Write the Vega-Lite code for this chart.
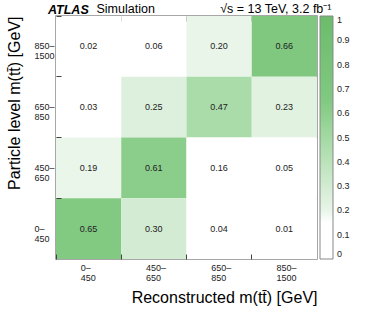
{
  "$schema": "https://vega.github.io/schema/vega-lite/v6.json",
  "autosize": "none",
  "width": 261,
  "height": 243,
  "padding": {"left": 56, "top": 16, "right": 57, "bottom": 65},
  "config": {
    "font": "Liberation Sans",
    "view": {"stroke": "#8a8a8a", "strokeWidth": 1.5},
    "axis": {"domain": false, "grid": false}
  },
  "title": {
    "text": "ATLAS",
    "anchor": "start",
    "frame": "group",
    "dx": -8,
    "offset": -14,
    "fontSize": 12.5,
    "fontWeight": "bold",
    "fontStyle": "italic",
    "color": "#000"
  },
  "data": {
    "values": [
      {"reco": "0–\n450", "part": "850–\n1500", "v": 0.02},
      {"reco": "450–\n650", "part": "850–\n1500", "v": 0.06},
      {"reco": "650–\n850", "part": "850–\n1500", "v": 0.20},
      {"reco": "850–\n1500", "part": "850–\n1500", "v": 0.66},
      {"reco": "0–\n450", "part": "650–\n850", "v": 0.03},
      {"reco": "450–\n650", "part": "650–\n850", "v": 0.25},
      {"reco": "650–\n850", "part": "650–\n850", "v": 0.47},
      {"reco": "850–\n1500", "part": "650–\n850", "v": 0.23},
      {"reco": "0–\n450", "part": "450–\n650", "v": 0.19},
      {"reco": "450–\n650", "part": "450–\n650", "v": 0.61},
      {"reco": "650–\n850", "part": "450–\n650", "v": 0.16},
      {"reco": "850–\n1500", "part": "450–\n650", "v": 0.05},
      {"reco": "0–\n450", "part": "0–\n450", "v": 0.65},
      {"reco": "450–\n650", "part": "0–\n450", "v": 0.30},
      {"reco": "650–\n850", "part": "0–\n450", "v": 0.04},
      {"reco": "850–\n1500", "part": "0–\n450", "v": 0.01}
    ]
  },
  "layer": [
    {
      "mark": {"type": "rect"},
      "encoding": {
        "x": {
          "field": "reco", "type": "ordinal",
          "sort": ["0–\n450", "450–\n650", "650–\n850", "850–\n1500"],
          "scale": {"paddingInner": 0, "paddingOuter": 0},
          "axis": {
            "orient": "bottom", "offset": -5,
            "title": "Reconstructed m(tt̄) [GeV]",
            "titleFontSize": 16, "titleFontWeight": "normal", "titleColor": "#000",
            "titleAnchor": "end", "titleAlign": "right", "titleX": 261, "titleY": 48, "titleBaseline": "alphabetic",
            "labelAngle": 0, "labelAlign": "left", "labelOffset": -8, "labelBaseline": "top",
            "labelExpr": "split(datum.label, '\\n')",
            "labelFontSize": 9, "labelColor": "#222", "labelLineHeight": 10, "labelPadding": 4,
            "bandPosition": 0, "tickSize": 5, "tickColor": "#444", "tickWidth": 1
          }
        },
        "y": {
          "field": "part", "type": "ordinal",
          "sort": ["850–\n1500", "650–\n850", "450–\n650", "0–\n450"],
          "scale": {"paddingInner": 0, "paddingOuter": 0},
          "axis": {
            "orient": "left", "offset": -5,
            "title": "Particle level m(tt̄) [GeV]",
            "titleFontSize": 16, "titleFontWeight": "normal", "titleColor": "#000",
            "titleAngle": -90, "titleAlign": "right", "titleX": -42, "titleY": 0, "titleBaseline": "alphabetic",
            "labelAlign": "left", "labelBaseline": "middle", "labelPadding": 22,
            "labelExpr": "split(datum.label, '\\n')",
            "labelFontSize": 9, "labelColor": "#222", "labelLineHeight": 10,
            "bandPosition": 0, "labelOffset": 0, "tickSize": 5, "tickColor": "#444", "tickWidth": 1
          }
        },
        "color": {
          "field": "v", "type": "quantitative",
          "scale": {
            "domain": [0, 0.17, 0.19, 0.3, 0.47, 0.66, 1],
            "range": ["#ffffff", "#ffffff", "#eaf6ea", "#d2ebd2", "#aadcaa", "#80c880", "#6cbc6c"]
          },
          "legend": {
            "orient": "none", "legendX": 264, "legendY": 0,
            "title": null,
            "direction": "vertical",
            "gradientLength": 243, "gradientThickness": 13,
            "gradientStrokeColor": "#888", "gradientStrokeWidth": 1,
            "values": [0, 0.1, 0.2, 0.3, 0.4, 0.5, 0.6, 0.7, 0.8, 0.9, 1],
            "format": ".1~f",
            "labelFontSize": 9, "labelColor": "#222", "labelOffset": 4,
            "labelOverlap": false
          }
        }
      }
    },
    {
      "mark": {"type": "text", "fontSize": 9, "color": "#222"},
      "encoding": {
        "x": {
          "field": "reco", "type": "ordinal",
          "sort": ["0–\n450", "450–\n650", "650–\n850", "850–\n1500"],
          "axis": {
            "orient": "top", "labels": false, "offset": -5,
            "bandPosition": 0, "tickSize": 5, "tickColor": "#444", "tickWidth": 1,
            "title": "Simulation", "titleFontSize": 12.5, "titleFontWeight": "normal", "titleColor": "#000",
            "titleAlign": "left", "titleX": 40, "titleY": -9, "titleBaseline": "alphabetic", "titleAnchor": "start"
          }
        },
        "y": {
          "field": "part", "type": "ordinal",
          "sort": ["850–\n1500", "650–\n850", "450–\n650", "0–\n450"],
          "axis": {
            "orient": "right", "labels": false, "ticks": false,
            "title": "√s = 13 TeV, 3.2 fb⁻¹", "titleFontSize": 12.5, "titleFontWeight": "normal", "titleColor": "#000",
            "titleAngle": 0, "titleAlign": "right", "titleX": 14, "titleY": -4, "titleBaseline": "alphabetic"
          }
        },
        "text": {"field": "v", "type": "quantitative", "format": ".2f"}
      }
    }
  ],
  "resolve": {"axis": {"x": "independent", "y": "independent"}}
}
